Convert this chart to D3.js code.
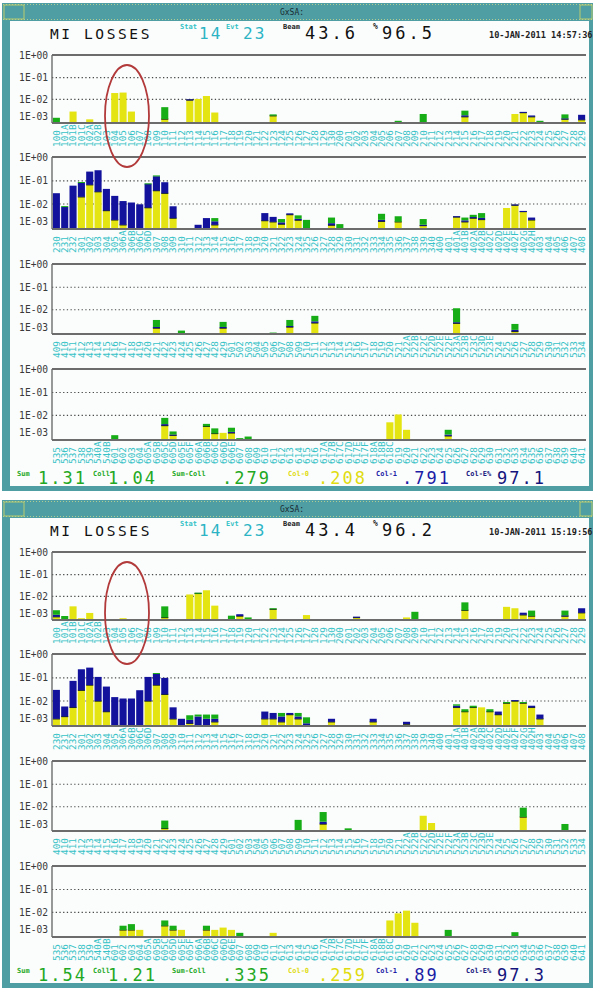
<!DOCTYPE html>
<html>
<head>
<meta charset="utf-8">
<script src="https://cdn.jsdelivr.net/npm/d3@7"></script>
<style>
body { margin: 0; background: #fff; }
svg text { font-family: "DejaVu Sans Mono", "Liberation Mono", monospace; }
</style>
</head>
<body>
<svg id="chart"></svg>
<script>
const width = 596;
const height = 990;

// monitor names under each panel (same in both snapshots)
const labels1 = "100 101A 101B 101C 102A 102B 103 104 105 106 107 108 109 110 111 112 113 114 115 116 117 118 119 120 121 122 123 124 125 126 127 128 129 130 200 201 202 203 204 205 206 207 208 209 210 211 212 213 214 215 216 217 218 219 220 221 222 223 224 225 226 227 228 229".split(' ');
const labels2 = "230 231 232 301 302 303 304 305 306A 306B 306C 306D 307 308 309 310 311 312 313 314 315 316 317 318 319 320 321 322 323 324 325 326 327 328 329 330 331 332 333 334 335 336 337 338 339 340 400 401 401A 401B 402A 402B 402C 402D 402E 402F 402G 402H 403 404 405 406 407 408".split(' ');
const labels3 = "409 410 411 412 413 414 415 416 417 418 419 420 421 422 423 424 425 426 427 428 429 501 502 503 504 505 506 507 508 509 510 511 512 513 514 515 516 517 518 519 520 521 522A 522B 522C 522D 522E 522F 523A 523B 523C 523D 523E 524 525 526 527 528 529 530 531 532 533 534".split(' ');
const labels4 = "535 536 537 538 539 540A 540B 601 602 603 604 605A 605B 605C 605D 605E 605F 606A 606B 606C 606D 606E 607 608 609 610 611 612 613 614 615 616 617A 617B 617C 617D 617E 617F 618A 618B 618C 619 620 621 622 623 624 625 626 627 628 629 630 631 632 633 634 635 636 637 638 639 640 641".split(' ');

const tickValues = [1e-3, 1e-2, 1e-1, 1];
const tickLabels = ['1E-03', '1E-02', '1E-01', '1E+00'];

// losses, one row per monitor that shows something: [column, col-0, col-1, col-E]
// first snapshot 14:57:36
const lossA1 = [[0,0,0,7e-4],[2,2.2e-3,0,0],[4,4.5e-4,0,0],[7,0.02,0,0],[8,0.021,0,0],[9,2.2e-3,0,0],
  [13,5e-4,0,3.5e-3],[16,0.0095,5e-4,0],[17,0.0105,0,0],[18,0.0145,0,0],[19,1.9e-3,0,0],[26,1.1e-3,0,3e-4],
  [41,0,0,2.5e-4],[44,0,0,1.5e-3],[49,9e-4,3e-4,1.3e-3],[55,1.5e-3,0,0],[56,1.9e-3,2e-4,0],[57,9e-4,2.5e-4,0],
  [58,0,0,2.5e-4],[61,5e-4,1e-4,8e-4],[63,4e-4,9e-4,0]];
const lossA2 = [[0,0,0.03,0],[1,0,7.3e-3,7e-4],[2,0,0.063,0],[3,0.021,0.064,5e-3],[4,0.069,0.177,0],[5,0.035,0.245,0],
  [6,4.9e-3,0.041,0],[7,1.4e-3,0.0216,0],[8,5e-4,0.0131,0],[9,0,0.0117,0],[10,0,9.7e-3,0],[11,6.8e-3,0.069,3e-3],
  [12,0.039,0.118,0.013],[13,0.03,0.058,0],[14,1.85e-3,6e-3,0],[17,0,5e-4,0],[18,0,1.85e-3,0],[19,5e-4,6e-4,7.5e-4],
  [25,1.25e-3,2.35e-3,0],[26,1e-3,1.2e-3,0],[27,6e-4,3e-4,7e-4],[28,3e-3,5e-4,0],[29,1.35e-3,3e-4,1.05e-3],[30,0,0,1.4e-3],
  [33,4.5e-4,3e-4,1.25e-3],[34,0,0,6e-4],[39,1.1e-3,3e-4,1.9e-3],[41,1e-3,0,1.4e-3],[44,4e-4,1e-4,1.1e-3],
  [48,2.2e-3,2e-4,0],[49,1e-3,3e-4,7e-4],[50,1.85e-3,3e-4,7.5e-4],[51,1.5e-3,4e-4,1.7e-3],[54,6.5e-3,0,0],
  [55,8.9e-3,6e-4,0],[56,4.4e-3,2e-4,0],[57,1.4e-3,6e-4,0]];
const lossA3 = [[12,8e-4,2e-4,2e-3],[15,0,0,4e-4],[20,8e-4,2e-4,1.3e-3],[26,0,0,1.5e-4],[28,1e-3,2e-4,1.8e-3],
  [31,2e-3,5e-4,2.5e-3],[48,1.9e-3,3e-4,9.5e-3],[55,3e-4,2e-4,1.2e-3]];
const lossA4 = [[7,0,0,6e-4],[13,3.1e-3,6e-4,3.9e-3],[14,6e-4,1e-4,6e-4],[18,2.8e-3,0,1e-3],[19,9e-4,0,1.2e-3],
  [20,1e-3,0,0],[21,1e-3,2e-4,1.1e-3],[22,0,0,2e-4],[23,0,0,4e-4],[40,4.6e-3,0,0],[41,0.011,0,0],[42,1.7e-3,0,0],
  [47,5e-4,2e-4,1e-3]];

// second snapshot 15:19:56
const lossB1 = [[0,4e-4,3e-4,1e-3],[1,0,0,5e-4],[2,3e-3,0,0],[3,2e-4,0,0],[4,1.05e-3,0,0],[8,2e-4,0,0],
  [13,3e-4,0,2.7e-3],[16,0.0124,0,0],[17,0.014,0,1e-3],[18,0.0195,0,0],[19,3.3e-3,0,0],[21,0,0,5.5e-4],
  [22,5e-4,3e-4,0],[23,0,0,3e-4],[26,2e-3,0,3e-4],[30,6.5e-4,0,0],[36,3e-4,1e-4,0],[42,3e-4,0,0],[43,0,0,1.3e-3],
  [49,1.7e-3,0,3.3e-3],[54,2.8e-3,0,0],[55,2.3e-3,0,0],[56,7e-4,4e-4,0],[57,5e-4,0,1.1e-3],[61,5e-4,1e-4,1e-3],
  [63,1.1e-3,1.2e-3,0]];
const lossB2 = [[0,1e-3,0.03,0],[1,1.5e-3,4e-3,0],[2,5e-3,0.07,0],[3,0.03,0.2,0],[4,0.05,0.22,0],[5,0.01,0.1,0],
  [6,3e-3,0.04,0],[7,0,0.015,0],[8,0,0.013,0],[9,0,0.013,0],[10,0,0.03,0],[11,0.01,0.1,0],[12,0.05,0.1,0.01],
  [13,0.02,0.08,0],[14,1e-3,4e-3,0],[15,0,1e-3,0],[16,3e-4,5e-4,1e-3],[17,0,1.5e-3,5e-4],[18,0,1e-3,1e-3],
  [19,5e-4,5e-4,1e-3],[25,1e-3,2e-3,0],[26,1e-3,1.5e-3,0],[27,5e-4,1e-3,1e-3],[28,2e-3,5e-4,0],[29,1e-3,5e-4,1e-3],
  [30,0,3e-4,1e-3],[33,5e-4,5e-4,0],[38,5e-4,5e-4,0],[42,2e-4,3e-4,0],[48,5e-3,1e-3,1e-3],[49,3e-3,0,1e-3],
  [50,5e-3,0,1e-3],[51,5e-3,0,0],[52,3e-3,0,1e-3],[53,2e-3,1e-3,0],[54,8e-3,0,1e-3],[55,0.01,1e-3,0],
  [56,8e-3,0,1e-3],[57,5e-3,1e-3,0],[58,1e-3,1e-3,0]];
const lossB3 = [[13,3e-4,0,1.5e-3],[16,0,0,1e-4],[29,0,0,2e-3],[32,1e-3,5e-4,4e-3],[35,0,0,3e-4],[44,3.5e-3,0,0],
  [45,1.2e-3,0,0],[56,3e-3,0,6e-3],[61,0,0,1e-3]];
const lossB4 = [[8,1e-3,0,1e-3],[9,1e-3,0,1.5e-3],[10,1e-3,0,0],[13,2e-3,0,2e-3],[14,1e-3,0,1e-3],[15,1e-3,0,0],
  [18,1e-3,0,1e-3],[19,1e-3,0,0],[20,1.5e-3,0,0],[21,1e-3,0,0],[22,0,0,5e-4],[26,5e-4,0,0],[40,4e-3,0,0],
  [41,9e-3,0,0],[42,0.012,0,0],[43,3e-3,0,0],[47,0,0,1e-3],[55,0,0,6e-4]];

// header and footer readouts
const statNo = ['14', '14'];
const evtNo = ['23', '23'];
const beam = ['43.6', '43.4'];
const percent = ['96.5', '96.2'];
const stamp = ['10-JAN-2011 14:57:36', '10-JAN-2011 15:19:56'];
const footNames = ['Sum', 'Coll', 'Sum-Coll', 'Col-0', 'Col-1', 'Col-E%'];
const footA = ['1.31', '1.04', '.279', '.208', '.791', '97.1'];
const footB = ['1.54', '1.21', '.335', '.259', '.89', '97.3'];

const screens = [
  {top: 0, losses: [lossA1, lossA2, lossA3, lossA4], foot: footA},
  {top: 497, losses: [lossB1, lossB2, lossB3, lossB4], foot: footB}
];
const labels = [labels1, labels2, labels3, labels4];

const keys = ['col0', 'col1', 'colE'];
const colors = {col0: '#e4e412', col1: '#12129c', colE: '#17ad17'};
const teal = '#4e9ea4';
const cyan = '#36c2c6';

const panelTop = [55, 157, 264, 369];
const panelBase = [123, 229, 334, 440];
const plotLeft = 52;
const plotRight = 586;

const x = d3.scaleBand().domain(d3.range(64)).range([plotLeft, plotRight])
            .paddingInner(0.15).paddingOuter(0.1);

const footX = [[17, 38], [93, 108], [172, 222], [288, 318], [376, 402], [466, 497]];
const footColor = ['#23a823', '#23a823', '#23a823', '#e0dc10', '#1c1ca6', '#14147c'];

const svg = d3.select('#chart')
            .attr('width', width)
            .attr('height', height);

svg.append('rect').attr('width', width).attr('height', height).attr('fill', '#ffffff');

function toRows(list) {
    const rows = d3.range(64).map(i => ({col0: 0, col1: 0, colE: 0}));
    list.forEach(([i, a, b, c]) => { rows[i] = {col0: a, col1: b, colE: c}; });
    return rows;
}

screens.forEach((scr, s) => {
    const g = svg.append('g').attr('transform', `translate(0, ${scr.top})`);

    // window frame
    g.append('rect').attr('x', 3).attr('y', 3).attr('width', 590).attr('height', 487)
        .attr('fill', '#fbfdfd');
    g.append('rect').attr('x', 2).attr('y', 3).attr('width', 8).attr('height', 488).attr('fill', teal);
    g.append('rect').attr('x', 589).attr('y', 3).attr('width', 4).attr('height', 488).attr('fill', teal);
    g.append('rect').attr('x', 2).attr('y', 486).attr('width', 591).attr('height', 5).attr('fill', teal);
    g.append('rect').attr('x', 2).attr('y', 3).attr('width', 591).attr('height', 18).attr('fill', teal);
    [4.5, 19.5].forEach(yy => g.append('line').attr('x1', 3).attr('x2', 592).attr('y1', yy).attr('y2', yy)
        .attr('stroke', '#c9d88e').attr('stroke-width', 0.8).attr('stroke-dasharray', '1,2'));
    [[4, 24], [580, 592]].forEach(([a, b]) => g.append('rect').attr('x', a).attr('y', 5).attr('width', b - a)
        .attr('height', 14).attr('fill', 'none').attr('stroke', '#d8d860').attr('stroke-width', 0.8));
    g.append('text').attr('x', 292).attr('y', 15).attr('text-anchor', 'middle')
        .attr('font-size', 8).attr('fill', '#1b2a30').text('GxSA:');

    // header line
    const head = [
        {t: 'MI LOSSES', x: 50, y: 39, fs: 14.5, ls: 2.6, c: '#111'},
        {t: 'Stat', x: 180, y: 29, fs: 7, ls: 0, c: cyan},
        {t: statNo[s], x: 199, y: 39, fs: 16, ls: 2, c: '#2cb4c4'},
        {t: 'Evt', x: 226, y: 29, fs: 7, ls: 0, c: cyan},
        {t: evtNo[s], x: 243, y: 39, fs: 16, ls: 2, c: '#2cb4c4'},
        {t: 'Beam', x: 283, y: 29, fs: 7, ls: 0, c: '#222'},
        {t: beam[s], x: 305, y: 39, fs: 17, ls: 3, c: '#111'},
        {t: '%', x: 373, y: 29, fs: 8, ls: 0, c: '#222'},
        {t: percent[s], x: 382, y: 39, fs: 17, ls: 3, c: '#111'},
        {t: stamp[s], x: 489, y: 38, fs: 8.6, ls: 0, c: '#222'}
    ];
    g.selectAll('.head').data(head).enter().append('text')
        .attr('x', d => d.x).attr('y', d => d.y)
        .attr('font-size', d => d.fs).attr('letter-spacing', d => d.ls)
        .attr('fill', d => d.c).attr('font-weight', d => d.fs < 9 ? 'bold' : 'normal')
        .text(d => d.t);

    // four loss panels
    scr.losses.forEach((list, p) => {
        const rows = toRows(list);
        const y = d3.scaleSymlog().constant(1e-3).domain([0, 1]).range([panelBase[p], panelTop[p]]);
        const panel = g.append('g');

        // dotted decades
        panel.selectAll('.grid').data([1e-2, 1e-1]).enter().append('line')
            .attr('x1', plotLeft).attr('x2', plotRight)
            .attr('y1', d => y(d)).attr('y2', d => y(d))
            .attr('stroke', '#4a4a4a').attr('stroke-width', 1.1).attr('stroke-dasharray', '1.3,2.4');

        // stacked bars
        const series = d3.stack().keys(keys)(rows);
        series.forEach((layer, k) => {
            const segs = layer.map((d, i) => ({i, lo: d[0], hi: d[1],
                    above: keys.slice(k + 1).some(key => rows[i][key] > 0)}))
                .filter(d => d.hi > d.lo);
            panel.selectAll(null).data(segs)
                .enter().append('rect')
                .attr('x', d => x(d.i))
                .attr('y', d => y(d.hi))
                .attr('width', x.bandwidth())
                .attr('height', d => Math.max(1, y(d.lo) - y(d.hi)))
                .attr('fill', colors[layer.key]);
            // dark seam between stacked segments
            panel.selectAll(null).data(segs.filter(d => d.above && layer.key !== 'col1'))
                .enter().append('rect')
                .attr('x', d => x(d.i)).attr('y', d => y(d.hi) - 0.5)
                .attr('width', x.bandwidth()).attr('height', 1.2)
                .attr('fill', '#1d2a1d');
        });

        // frame of the panel
        panel.append('line').attr('x1', plotLeft).attr('x2', plotRight)
            .attr('y1', y(1)).attr('y2', y(1)).attr('stroke', '#6c6c6c').attr('stroke-width', 2);
        panel.append('line').attr('x1', plotLeft).attr('x2', plotRight)
            .attr('y1', y(0)).attr('y2', y(0)).attr('stroke', '#6c6c6c').attr('stroke-width', 2);
        panel.append('line').attr('x1', plotLeft).attr('x2', plotLeft)
            .attr('y1', y(1)).attr('y2', y(0)).attr('stroke', '#6c6c6c').attr('stroke-width', 1.4);

        // decade labels
        const yAxis = panel.append('g').attr('transform', `translate(${plotLeft}, 0)`)
            .call(d3.axisLeft(y).tickValues(tickValues).tickFormat((d, i) => tickLabels[i])
                .tickSize(0).tickPadding(4));
        yAxis.select('.domain').remove();
        yAxis.selectAll('text').attr('font-size', 9.6).attr('fill', '#3a3a3a')
            .style('font-family', '"DejaVu Sans Mono", monospace');

        // monitor names, written upwards
        panel.selectAll('.name').data(labels[p]).enter().append('text')
            .attr('transform', (d, i) => `translate(${x(i) + x.bandwidth() / 2}, ${panelBase[p] + 24}) rotate(-90)`)
            .attr('dy', '0.36em')
            .attr('font-size', 9.4)
            .attr('fill', cyan)
            .text(d => d);
    });

    // totals line
    footNames.forEach((name, i) => {
        g.append('text').attr('x', footX[i][0]).attr('y', 476).attr('font-size', 7)
            .attr('font-weight', 'bold').attr('fill', footColor[i]).text(name);
        g.append('text').attr('x', footX[i][1]).attr('y', 484).attr('font-size', 17)
            .attr('letter-spacing', 2).attr('fill', footColor[i]).text(scr.foot[i]);
    });

    // hand-drawn circle around 104-106
    g.append('ellipse').attr('cx', 127).attr('cy', 116).attr('rx', 22).attr('ry', 51)
        .attr('fill', 'none').attr('stroke', '#b23a3a').attr('stroke-width', 1.8);
});
</script>
</body>
</html>
